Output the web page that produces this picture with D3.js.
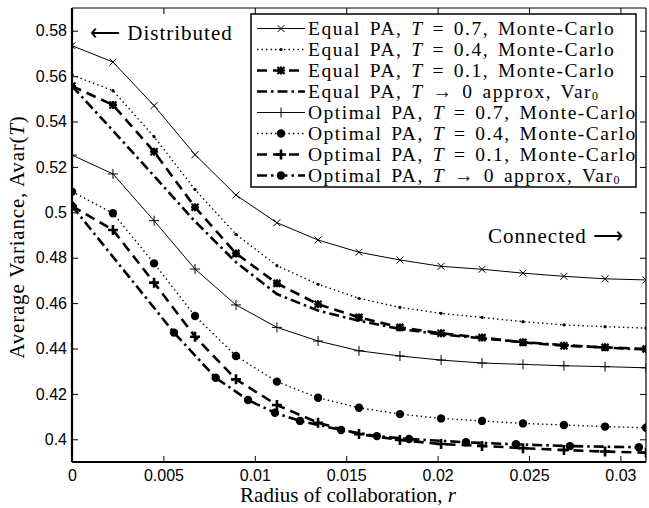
<!DOCTYPE html>
<html>
<head>
<meta charset="utf-8">
<script src="https://cdn.jsdelivr.net/npm/d3@7"></script>
<style>
  body { margin: 0; background: #fff; }
  .tick text { font-family: "Liberation Sans", Arial, sans-serif; font-size: 16px; fill: #000; }
  .serif { font-family: "Liberation Serif", "Times New Roman", serif; font-size: 21px; fill: #000; }
  .legend-text { font-size: 19.5px; letter-spacing: 1.5px; word-spacing: 2.5px; }
</style>
</head>
<body>
<svg id="chart" width="649" height="508"></svg>
<script>
// radius of collaboration (Monte-Carlo grid)
const radius = [0, 0.00224, 0.00449, 0.00673, 0.00897, 0.01121, 0.01346, 0.0157,
                0.01794, 0.02019, 0.02243, 0.02467, 0.02691, 0.02916, 0.0314];

const equalT07 = [0.5734, 0.5662, 0.5470, 0.5254, 0.5076, 0.4954, 0.4878, 0.4824, 0.4790, 0.4762, 0.4749, 0.4732, 0.4718, 0.4707, 0.4702];
const equalT04 = [0.5605, 0.5536, 0.5333, 0.5100, 0.4903, 0.4765, 0.4683, 0.4621, 0.4581, 0.4555, 0.4537, 0.4518, 0.4504, 0.4496, 0.4490];
const equalT01 = [0.5556, 0.5473, 0.5267, 0.5022, 0.4819, 0.4687, 0.4595, 0.4537, 0.4493, 0.4467, 0.4448, 0.4427, 0.4412, 0.4405, 0.4398];
const equalVar0 = [0.5556, 0.5360, 0.5160, 0.4960, 0.4780, 0.4640, 0.4567, 0.4522, 0.4486, 0.4462, 0.4445, 0.4428, 0.4415, 0.4404, 0.4395];

const optimalT07 = [0.5252, 0.5169, 0.4963, 0.4750, 0.4592, 0.4493, 0.4433, 0.4390, 0.4367, 0.4349, 0.4336, 0.4330, 0.4324, 0.4320, 0.4315];
const optimalT04 = [0.5091, 0.4996, 0.4775, 0.4543, 0.4367, 0.4254, 0.4183, 0.4139, 0.4111, 0.4092, 0.4081, 0.4070, 0.4063, 0.4056, 0.4051];
const optimalT01 = [0.5028, 0.4922, 0.4690, 0.4452, 0.4264, 0.4151, 0.4073, 0.4023, 0.3997, 0.3979, 0.3971, 0.3961, 0.3953, 0.3946, 0.3941];

// the Var0 approximation of the optimal case has its own radius samples
const radiusVar0 = [0, 0.00558, 0.00786, 0.00963, 0.0111, 0.01247, 0.01472, 0.01668, 0.01844, 0.02155, 0.02429, 0.02724, 0.03101];
const optimalVar0 = [0.5028, 0.4470, 0.4271, 0.4173, 0.4117, 0.4081, 0.4041, 0.4014, 0.4001, 0.3987, 0.3978, 0.3970, 0.3965];

const xTicks = [0, 0.005, 0.01, 0.015, 0.02, 0.025, 0.03];
const xTickLabels = ["0", "0.005", "0.01", "0.015", "0.02", "0.025", "0.03"];
const yTicks = [0.4, 0.42, 0.44, 0.46, 0.48, 0.5, 0.52, 0.54, 0.56, 0.58];
const yTickLabels = ["0.4", "0.42", "0.44", "0.46", "0.48", "0.5", "0.52", "0.54", "0.56", "0.58"];

const legendLabels = [
  ["Equal PA, ", "T", " = 0.7, Monte-Carlo", ""],
  ["Equal PA, ", "T", " = 0.4, Monte-Carlo", ""],
  ["Equal PA, ", "T", " = 0.1, Monte-Carlo", ""],
  ["Equal PA, ", "T", " \u2192 0 approx, Var", "0"],
  ["Optimal PA, ", "T", " = 0.7, Monte-Carlo", ""],
  ["Optimal PA, ", "T", " = 0.4, Monte-Carlo", ""],
  ["Optimal PA, ", "T", " = 0.1, Monte-Carlo", ""],
  ["Optimal PA, ", "T", " \u2192 0 approx, Var", "0"]
];

const styles = {
  solid:   { dash: null, width: 1 },
  dotted:  { dash: "1.4,3.1", width: 1.4 },
  dashed:  { dash: "10,6", width: 2.6 },
  dashdot: { dash: "10,4,2.5,4", width: 2.6 }
};

const series = [
  { xs: radius, ys: equalT07, style: "solid", marker: "x" },
  { xs: radius, ys: equalT04, style: "dotted", marker: "dot" },
  { xs: radius, ys: equalT01, style: "dashed", marker: "star" },
  { xs: radius, ys: equalVar0, style: "dashdot", marker: null },
  { xs: radius, ys: optimalT07, style: "solid", marker: "plus" },
  { xs: radius, ys: optimalT04, style: "dotted", marker: "circle" },
  { xs: radius, ys: optimalT01, style: "dashed", marker: "boldplus" },
  { xs: radiusVar0, ys: optimalVar0, style: "dashdot", marker: "circle" }
];

const margin = { left: 72, right: 3, top: 8, bottom: 46 };
const svg = d3.select("#chart");
const width = +svg.attr("width") - margin.left - margin.right;
const height = +svg.attr("height") - margin.top - margin.bottom;

const chart = svg.append("g")
  .attr("transform", "translate(" + margin.left + "," + margin.top + ")");

const xScale = d3.scaleLinear().domain([0, 0.0314]).range([0, width]);
const yScale = d3.scaleLinear().domain([0.39, 0.59]).range([height, 0]);

// axes, ticks pointing inward like matlab
chart.append("g")
  .attr("transform", "translate(0," + height + ")")
  .call(d3.axisBottom(xScale).tickValues(xTicks).tickSizeInner(-6).tickSizeOuter(0).tickPadding(8)
    .tickFormat((d, i) => xTickLabels[i]));
chart.append("g")
  .call(d3.axisTop(xScale).tickValues(xTicks).tickSizeInner(-6).tickSizeOuter(0).tickFormat(""));
chart.append("g")
  .call(d3.axisLeft(yScale).tickValues(yTicks).tickSizeInner(-6).tickSizeOuter(0).tickPadding(5)
    .tickFormat((d, i) => yTickLabels[i]));
chart.append("g")
  .attr("transform", "translate(" + width + ",0)")
  .call(d3.axisRight(yScale).tickValues(yTicks).tickSizeInner(-6).tickSizeOuter(0).tickFormat(""));

chart.selectAll(".domain").remove();
chart.selectAll(".tick line").attr("stroke", "#000").attr("stroke-width", 1);

chart.append("clipPath").attr("id", "plotclip")
  .append("rect").attr("x", 0).attr("y", 0).attr("width", width).attr("height", height);

const plot = chart.append("g").attr("clip-path", "url(#plotclip)");

function drawMarker(g, type, cx, cy) {
  if (type === "x") {
    g.append("path").attr("d", `M${cx-3.5},${cy-3.5}L${cx+3.5},${cy+3.5}M${cx-3.5},${cy+3.5}L${cx+3.5},${cy-3.5}`)
      .attr("stroke", "#000").attr("stroke-width", 1);
  } else if (type === "plus") {
    g.append("path").attr("d", `M${cx-5},${cy}L${cx+5},${cy}M${cx},${cy-5}L${cx},${cy+5}`)
      .attr("stroke", "#000").attr("stroke-width", 1);
  } else if (type === "boldplus") {
    g.append("path").attr("d", `M${cx-5},${cy}L${cx+5},${cy}M${cx},${cy-5}L${cx},${cy+5}`)
      .attr("stroke", "#000").attr("stroke-width", 2.6);
  } else if (type === "star") {
    g.append("path").attr("d", `M${cx-4},${cy}L${cx+4},${cy}M${cx},${cy-4}L${cx},${cy+4}` +
        `M${cx-3.5},${cy-3.5}L${cx+3.5},${cy+3.5}M${cx-3.5},${cy+3.5}L${cx+3.5},${cy-3.5}`)
      .attr("stroke", "#000").attr("stroke-width", 2.2);
  } else if (type === "dot") {
    g.append("circle").attr("cx", cx).attr("cy", cy).attr("r", 1.6).attr("fill", "#000");
  } else if (type === "circle") {
    g.append("circle").attr("cx", cx).attr("cy", cy).attr("r", 4.2).attr("fill", "#000");
  }
}

series.forEach(s => {
  const st = styles[s.style];
  const pts = s.xs.map((r, i) => [r, s.ys[i]]);
  const line = d3.line().x(d => xScale(d[0])).y(d => yScale(d[1]));
  plot.append("path")
    .datum(pts)
    .attr("d", line)
    .attr("fill", "none")
    .attr("stroke", "#000")
    .attr("stroke-width", st.width)
    .attr("stroke-dasharray", st.dash);
  if (s.marker) {
    const mg = plot.append("g");
    pts.forEach(d => drawMarker(mg, s.marker, xScale(d[0]), yScale(d[1])));
  }
});

// frame
chart.append("line").attr("x1", 0).attr("x2", width).attr("y1", 0).attr("y2", 0)
  .attr("stroke", "#000").attr("stroke-width", 1.2);
chart.append("line").attr("x1", width).attr("x2", width).attr("y1", 0).attr("y2", height)
  .attr("stroke", "#000").attr("stroke-width", 1.2);
chart.append("line").attr("x1", 0).attr("x2", width).attr("y1", height).attr("y2", height)
  .attr("stroke", "#000").attr("stroke-width", 2.2);
chart.append("line").attr("x1", 0).attr("x2", 0).attr("y1", 0).attr("y2", height)
  .attr("stroke", "#000").attr("stroke-width", 2.2);

// annotations
svg.append("text").attr("class", "serif").attr("x", 90).attr("y", 40)
  .attr("letter-spacing", 1).text("\u27F5 Distributed");
svg.append("text").attr("class", "serif").attr("x", 488).attr("y", 243)
  .attr("letter-spacing", 1).text("Connected \u27F6");

// legend
const legend = svg.append("g").attr("transform", "translate(251,14)");
legend.append("rect").attr("width", 385).attr("height", 173)
  .attr("fill", "#fff").attr("stroke", "#000").attr("stroke-width", 1.5);

series.forEach((s, i) => {
  const st = styles[s.style];
  const cy = 14.5 + i * 21;
  const row = legend.append("g");
  row.append("line").attr("x1", 6).attr("x2", 54).attr("y1", cy).attr("y2", cy)
    .attr("stroke", "#000").attr("stroke-width", st.width).attr("stroke-dasharray", st.dash);
  if (s.marker) drawMarker(row, s.marker, 30, cy);
  const lab = legendLabels[i];
  const t = row.append("text").attr("class", "serif legend-text").attr("x", 57).attr("y", cy + 6.5);
  t.append("tspan").text(lab[0]);
  t.append("tspan").attr("font-style", "italic").text(lab[1]);
  t.append("tspan").text(lab[2]);
  if (lab[3]) {
    t.append("tspan").attr("font-size", "12px").attr("dy", 1.5).text(lab[3]);
  }
});

// axis titles
const xl = svg.append("text").attr("class", "serif").attr("text-anchor", "middle")
  .attr("x", 348).attr("y", 502);
xl.append("tspan").text("Radius of collaboration, ");
xl.append("tspan").attr("font-style", "italic").text("r");

const yl = svg.append("text").attr("class", "serif").attr("text-anchor", "middle")
  .attr("letter-spacing", 0.8)
  .attr("transform", "translate(24,237) rotate(-90)");
yl.append("tspan").text("Average Variance, Avar(");
yl.append("tspan").attr("font-style", "italic").text("T");
yl.append("tspan").text(")");
</script>
</body>
</html>
